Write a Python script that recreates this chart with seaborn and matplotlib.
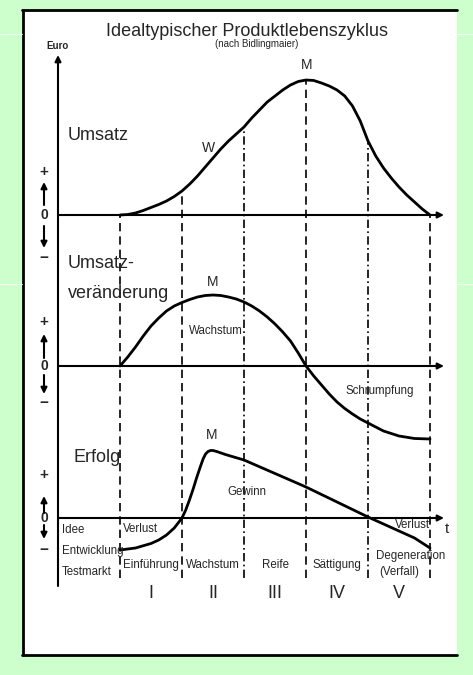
import numpy as np
import pandas as pd
import matplotlib
matplotlib.use("Agg")
import matplotlib.pyplot as plt
from matplotlib.patches import Rectangle
from matplotlib.lines import Line2D
import seaborn as sns

# phase boundaries on the time axis (t) and phase names
phase_t = [1, 2, 3, 4, 5, 6]
phase_names = ["Einführung", "Wachstum", "Reife", "Sättigung", "Degeneration\n(Verfall)"]
roman = ["I", "II", "III", "IV", "V"]
boundary_styles = ["--", "--", "-.", "--", "-.", "--"]

# Umsatz (sales)
umsatz_t = [1.0, 1.125, 1.25, 1.375, 1.5, 1.625, 1.75, 1.875, 2.0, 2.125, 2.25, 2.375,
            2.5, 2.625, 2.75, 2.875, 3.0, 3.125, 3.25, 3.375, 3.5, 3.625, 3.75, 3.875,
            4.0, 4.125, 4.25, 4.375, 4.5, 4.625, 4.75, 4.875, 5.0, 5.125, 5.25, 5.375,
            5.5, 5.625, 5.75, 5.875, 6.0]
umsatz = [0, 0.05, 0.2, 0.45, 0.75, 1.05, 1.4, 1.85, 2.4, 3.1, 3.9, 4.8,
          5.7, 6.6, 7.4, 8.1, 8.8, 9.7, 10.5, 11.3, 11.9, 12.5, 13.0, 13.35,
          13.5, 13.45, 13.2, 12.9, 12.5, 11.9, 10.9, 9.4, 7.4, 5.9, 4.7, 3.7,
          2.8, 2.0, 1.3, 0.6, 0]

# Umsatzveraenderung (change in sales)
veraend_t = [1.0, 1.125, 1.25, 1.375, 1.5, 1.625, 1.75, 1.875, 2.0, 2.125, 2.25, 2.375,
             2.5, 2.625, 2.75, 2.875, 3.0, 3.125, 3.25, 3.375, 3.5, 3.625, 3.75, 3.875,
             4.0, 4.125, 4.25, 4.375, 4.5, 4.625, 4.75, 4.875, 5.0, 5.25, 5.5, 5.75, 6.0]
veraend = [0, 0.9, 1.9, 3.0, 4.0, 4.8, 5.5, 6.0, 6.35, 6.65, 6.9, 7.05,
           7.1, 7.05, 6.9, 6.7, 6.4, 6.0, 5.5, 4.9, 4.2, 3.4, 2.5, 1.3,
           0, -1.0, -1.9, -2.8, -3.6, -4.25, -4.8, -5.3, -5.7, -6.5, -7.0, -7.25, -7.3]

# Erfolg (profit)
erfolg_t = [1.0, 1.25, 1.5, 1.625, 1.75, 1.875, 2.0, 2.06, 2.12, 2.18, 2.24, 2.3,
            2.34, 2.38, 2.42, 2.46, 2.5, 2.56, 2.7, 3.0, 4.0, 5.0, 5.5, 5.75, 6.0]
erfolg = [-3.2, -3.0, -2.55, -2.2, -1.7, -1.0, 0, 0.8, 1.8, 2.9, 4.1, 5.2,
          5.9, 6.4, 6.65, 6.75, 6.75, 6.65, 6.35, 5.8, 3.1, 0.1, -1.3, -2.0, -3.0]

# layout (pixel based helper -> data coords)
W, H = 473, 675
T0_PX, T_PX, Y_PX = 58, 62, 10


def P(px, py):
    return (px - T0_PX) / T_PX, (H - py) / Y_PX


base_u = P(0, 215)[1]
base_v = P(0, 366)[1]
base_e = P(0, 518)[1]
bottom_y = P(0, 578)[1]

sns.set_style("white")
plt.rcParams["font.family"] = ["Liberation Sans", "DejaVu Sans"]

fig = plt.figure(figsize=(W / 100, H / 100), dpi=100)
fig.patch.set_facecolor("#ccffcc")

# white sheet with black frame
fig.add_artist(Rectangle((22 / W, 1 - 655 / H), (457 - 22) / W, (655 - 10) / H,
                         transform=fig.transFigure, facecolor="white", edgecolor="none", zorder=-5))
for xs, ys in [((23 / W, 23 / W), (1 - 10 / H, 1 - 655 / H)),
               ((22 / W, 457 / W), (1 - 10 / H, 1 - 10 / H)),
               ((22 / W, 457 / W), (1 - 655 / H, 1 - 655 / H))]:
    fig.add_artist(Line2D(xs, ys, transform=fig.transFigure, color="black", lw=2.0, zorder=-4))
for yy in (34, 284):
    for xs in ((0, 22 / W), (457 / W, 1)):
        fig.add_artist(Line2D(xs, (1 - yy / H, 1 - yy / H), transform=fig.transFigure,
                              color="white", lw=0.8, alpha=0.8, zorder=-4))

ax = fig.add_axes([0, 0, 1, 1])
ax.set_xlim(P(0, 0)[0], P(W, 0)[0])
ax.set_ylim(0, H / Y_PX)
ax.axis("off")

ARW = dict(arrowstyle="-|>", color="black", lw=1.5, mutation_scale=9, shrinkA=0, shrinkB=0)

# vertical Euro axis
ax.annotate("", xy=(0, P(0, 55)[1]), xytext=(0, P(0, 586)[1]), arrowprops=ARW)
# three horizontal axes
t_end = P(444, 0)[0]
for b in (base_u, base_v, base_e):
    ax.annotate("", xy=(t_end, b), xytext=(0, b), arrowprops=ARW)

# phase boundaries
for t, ls in zip(phase_t, boundary_styles):
    top = base_u + umsatz[umsatz_t.index(t)]
    ax.plot([t, t], [bottom_y, top], color="black", lw=1.2, ls=ls,
            dashes=(5, 3) if ls == "--" else (5, 2, 1, 2))

# curves
df_u = pd.DataFrame({"t": umsatz_t, "y": np.array(umsatz) + base_u})
df_v = pd.DataFrame({"t": veraend_t, "y": np.array(veraend) + base_v})
df_e = pd.DataFrame({"t": erfolg_t, "y": np.array(erfolg) + base_e})
for d in (df_u, df_v, df_e):
    sns.lineplot(data=d, x="t", y="y", ax=ax, color="black", lw=2.0, sort=False,
                 solid_joinstyle="round", solid_capstyle="round")

# + / 0 / - markers on the left
mk_x = P(44, 0)[0]
marker_spec = [  # baseline, plus, up-arrow (from,to), down-arrow (from,to), minus (offsets in units)
    (base_u, 4.3, 1.0, 3.3, -1.1, -3.3, -4.3),
    (base_v, 4.4, 0.8, 3.2, -0.9, -2.8, -3.7),
    (base_e, 4.3, 0.5, 2.2, -0.7, -2.1, -3.2),
]
for b, pl, a0, a1, d0, d1, mi in marker_spec:
    ax.text(mk_x, b + pl, "+", ha="center", va="center", fontsize=11, fontweight="bold")
    ax.text(mk_x, b, "0", ha="center", va="center", fontsize=10, fontweight="bold")
    ax.text(mk_x, b + mi, "−", ha="center", va="center", fontsize=11, fontweight="bold")
    ax.annotate("", xy=(mk_x, b + a1), xytext=(mk_x, b + a0), arrowprops=ARW)
    ax.annotate("", xy=(mk_x, b + d1), xytext=(mk_x, b + d0), arrowprops=ARW)

# titles
ax.text(*P(247, 32), "Idealtypischer Produktlebenszyklus", ha="center", va="center", fontsize=13)
ax.text(*P(257, 44), "(nach Bidlingmaier)", ha="center", va="center", fontsize=7)
ax.text(*P(57, 46), "Euro", ha="center", va="center", fontsize=7, fontweight="bold")

# panel labels
big = 13
small = 8.3
ax.text(*P(68, 135), "Umsatz", ha="left", va="center", fontsize=big)
ax.text(*P(68, 264), "Umsatz-", ha="left", va="center", fontsize=big)
ax.text(*P(68, 293), "veränderung", ha="left", va="center", fontsize=big)
ax.text(*P(73, 458), "Erfolg", ha="left", va="center", fontsize=big)

# curve annotations
ax.text(*P(307, 65), "M", ha="center", va="center", fontsize=10)
ax.text(*P(208, 148), "W", ha="center", va="center", fontsize=10)
ax.text(*P(213, 282), "M", ha="center", va="center", fontsize=10)
ax.text(*P(216, 331), "Wachstum", ha="center", va="center", fontsize=small)
ax.text(*P(380, 391), "Schrumpfung", ha="center", va="center", fontsize=small)
ax.text(*P(212, 435), "M", ha="center", va="center", fontsize=10)
ax.text(*P(247, 492), "Gewinn", ha="center", va="center", fontsize=small)
ax.text(*P(123, 529), "Verlust", ha="left", va="center", fontsize=small)
ax.text(*P(413, 525), "Verlust", ha="center", va="center", fontsize=small)
ax.text(*P(447, 529), "t", ha="center", va="center", fontsize=11)

# pre-phases and phase names
ax.text(*P(62, 530), "Idee", ha="left", va="center", fontsize=small)
ax.text(*P(62, 551), "Entwicklung", ha="left", va="center", fontsize=small)
ax.text(*P(62, 572), "Testmarkt", ha="left", va="center", fontsize=small)
for i, (name, rn) in enumerate(zip(phase_names, roman)):
    tc = (phase_t[i] + phase_t[i + 1]) / 2
    if "\n" in name:
        top_name, sub_name = name.split("\n")
        ax.text(P(411, 0)[0], P(0, 556)[1], top_name, ha="center", va="center", fontsize=small)
        ax.text(tc, P(0, 572)[1], sub_name, ha="center", va="center", fontsize=small)
    else:
        ax.text(tc, P(0, 565)[1], name, ha="center", va="center", fontsize=small)
    ax.text(tc, P(0, 593)[1], rn, ha="center", va="center", fontsize=13)

fig.savefig("out.png", dpi=100, facecolor=fig.get_facecolor())
